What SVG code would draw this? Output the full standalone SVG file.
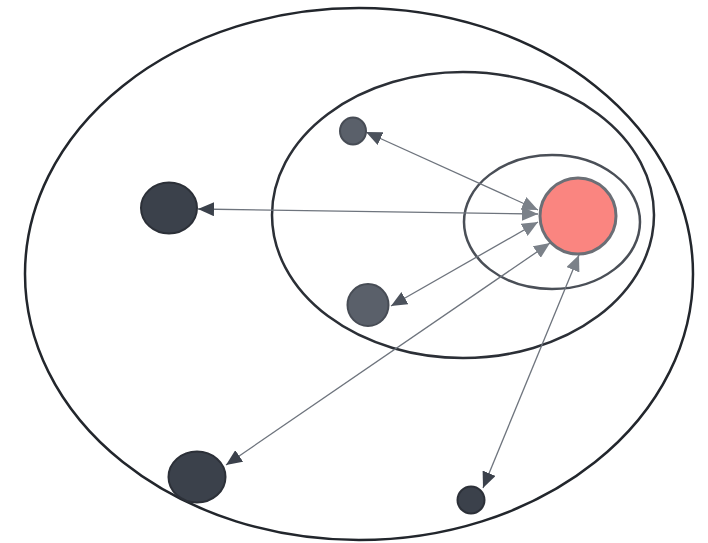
<svg xmlns="http://www.w3.org/2000/svg" width="708" height="543" viewBox="0 0 708 543">
  <style>
    .ring{fill:none;stroke-width:2.5}
    .edge{stroke:#6e747d;stroke-width:1.3;fill:none}
    .dark{fill:#3b414b;stroke:#2c3038;stroke-width:2}
    .mid{fill:#5a606a;stroke:#474c55;stroke-width:2}
  </style>
  <defs>
    <marker id="hRed" viewBox="0 0 16 14" refX="16" refY="7" markerWidth="16" markerHeight="14" markerUnits="userSpaceOnUse" orient="auto">
      <path d="M0,0 L16,7 L0,14 z" fill="#7b8189"/>
    </marker>
    <marker id="hDark" viewBox="0 0 16 14" refX="16" refY="7" markerWidth="16" markerHeight="14" markerUnits="userSpaceOnUse" orient="auto-start-reverse">
      <path d="M0,0 L16,7 L0,14 z" fill="#3b414b"/>
    </marker>
    <marker id="hMid" viewBox="0 0 16 14" refX="16" refY="7" markerWidth="16" markerHeight="14" markerUnits="userSpaceOnUse" orient="auto-start-reverse">
      <path d="M0,0 L16,7 L0,14 z" fill="#4c525c"/>
    </marker>
  </defs>
  <rect width="708" height="543" fill="#ffffff"/>
  <g id="rings">
    <ellipse class="ring" cx="359" cy="274" rx="334" ry="266" stroke="#22262c"/>
    <ellipse class="ring" cx="463" cy="215" rx="191" ry="143" stroke="#2b2f36"/>
    <ellipse class="ring" cx="552" cy="222" rx="88" ry="67" stroke="#4a4f57"/>
  </g>
  <g id="connectors">
    <line class="edge" x1="198" y1="209" x2="538" y2="214" marker-start="url(#hDark)" marker-end="url(#hRed)"/>
    <line class="edge" x1="366" y1="132" x2="538" y2="210" marker-start="url(#hMid)" marker-end="url(#hRed)"/>
    <line class="edge" x1="391" y1="306" x2="538" y2="222" marker-start="url(#hMid)" marker-end="url(#hRed)"/>
    <line class="edge" x1="226" y1="465" x2="550" y2="243" marker-start="url(#hDark)" marker-end="url(#hRed)"/>
    <line class="edge" x1="483" y1="488" x2="579" y2="255" marker-start="url(#hDark)" marker-end="url(#hRed)"/>
  </g>
  <g id="center"><circle cx="578" cy="216" r="38" fill="#fa8580" stroke="#6b6f76" stroke-width="3"/></g>
  <g id="nodeA"><ellipse class="dark" cx="169" cy="208" rx="28" ry="25.5"/></g>
  <g id="nodeB"><ellipse class="mid" cx="353" cy="131" rx="13" ry="13.5"/></g>
  <g id="nodeC"><ellipse class="mid" cx="368" cy="305" rx="20.5" ry="21"/></g>
  <g id="nodeD"><ellipse class="dark" cx="197" cy="477" rx="28.5" ry="25.5"/></g>
  <g id="nodeE"><circle class="dark" cx="471" cy="500" r="13.5"/></g>
</svg>
